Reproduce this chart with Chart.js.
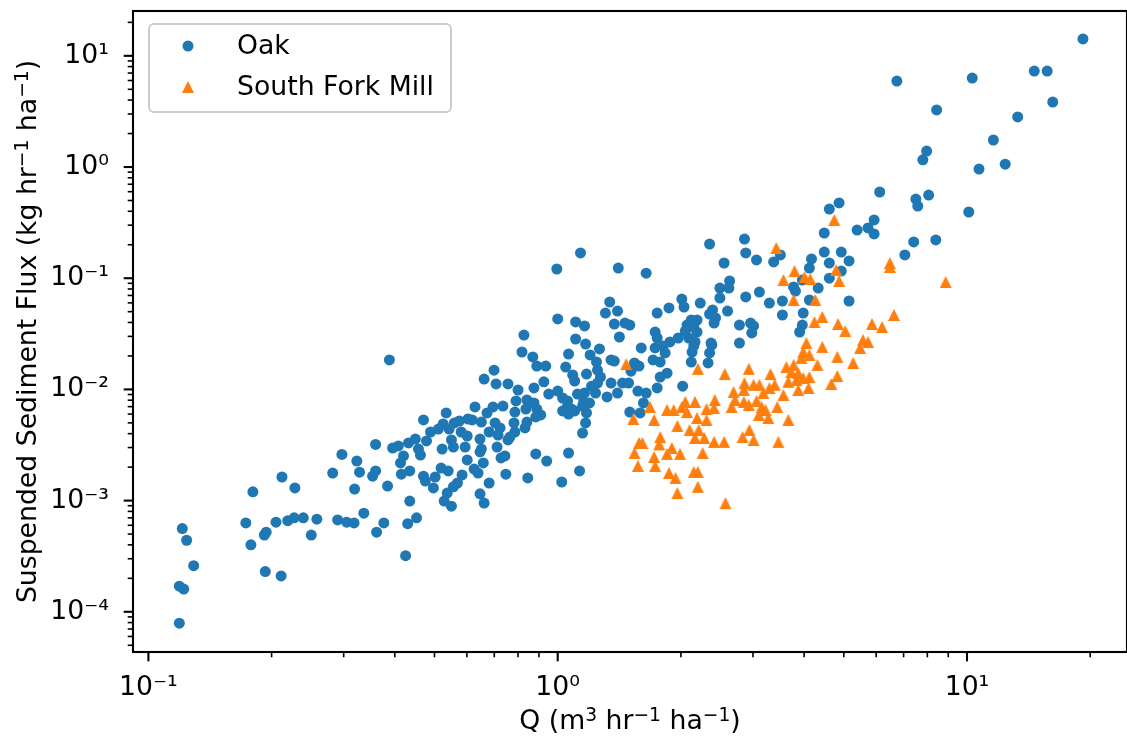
<!DOCTYPE html>
<html>
<head>
<meta charset="utf-8">
<script src="https://cdn.jsdelivr.net/npm/chart.js"></script>
<style>
  html, body { margin: 0; padding: 0; background: #fff; }
  #wrap { width: 1127px; height: 737px; }
</style>
</head>
<body>
<div id="wrap"><canvas id="myChart" width="1127" height="737"></canvas></div>
<script>
// Oak: Q (m3 hr-1 ha-1) and suspended sediment flux (kg hr-1 ha-1)
const oakQ = [
  0.121, 0.124, 0.129, 0.119, 0.122, 0.119, 0.173, 0.178, 0.180, 0.193, 0.192, 0.194, 0.205, 0.211, 0.212, 0.219, 0.227,
  0.228, 0.239, 0.250, 0.258, 0.282, 0.290, 0.297, 0.305, 0.318, 0.323, 0.328, 0.319, 0.336, 0.353, 0.359, 0.359, 0.361,
  0.388, 0.995, 1.137, 1.0, 0.827, 0.818, 0.869, 0.889, 0.935, 0.699, 0.661, 0.707, 0.756, 0.800, 0.875, 0.925, 0.951,
  1.0, 0.791, 0.841, 0.875, 0.628, 0.672, 0.695, 0.735, 0.786, 0.836, 0.889, 0.909, 0.534, 0.470, 0.525, 0.559, 0.575,
  0.604, 0.618, 0.651, 0.703, 0.723, 0.782, 0.841, 0.884, 0.489, 0.511, 0.543, 0.581, 0.601, 0.680, 0.715, 0.786, 0.832,
  0.646, 0.756, 0.449, 0.432, 0.478, 0.550, 0.408, 0.395, 0.457, 0.522, 0.556, 0.594, 0.651, 0.711, 0.462, 0.420, 0.413,
  0.646, 0.601, 0.658, 0.625, 0.639, 0.727, 0.743, 0.747, 0.680, 0.646, 0.661, 0.584, 0.569, 0.556, 0.537, 0.528, 0.550,
  0.540, 0.519, 0.502, 0.497, 0.470, 0.475, 0.435, 0.415, 0.384, 0.435, 0.452, 0.430, 0.376, 0.425, 0.884, 0.940, 1.063,
  1.131, 1.023, 0.845, 0.764, 1.028, 1.057, 1.10, 1.15,
  1.106, 1.163, 1.308, 1.106, 1.17, 1.265, 1.063, 1.20, 1.244, 1.046, 1.088, 1.10, 1.176, 1.251, 1.272, 1.251, 1.21,
  1.237, 1.163, 1.118, 1.196, 1.157, 1.057, 1.028, 1.063, 1.081, 1.176, 1.17, 1.15,
  1.406, 1.645, 2.35, 2.86, 2.88, 3.06, 3.37, 3.50, 2.55, 4.48, 4.93, 4.48, 5.15, 4.61, 4.17, 4.12, 4.93, 4.61, 4.33,
  3.96, 3.77, 3.81, 5.15, 4.12, 3.98, 3.54, 3.54, 3.29, 2.88, 3.11, 3.96, 3.90, 2.63, 2.62, 2.49, 2.49, 2.39, 2.60, 2.35,
  2.43, 2.41, 2.23, 2.01, 2.035, 1.87, 1.75, 2.12, 2.19, 2.15, 2.07, 2.05, 2.19, 2.09, 2.165, 2.15, 2.13, 2.12, 2.38,
  2.35, 2.33, 1.97, 1.88, 1.81, 1.83, 1.73, 1.75, 1.73, 1.71, 1.78, 1.85, 1.78, 1.75, 1.60, 1.415, 1.375, 1.46, 1.50,
  1.34, 1.40, 1.35, 1.375, 1.54, 1.58, 1.51, 1.35, 1.44, 1.49, 1.32, 1.40, 1.57, 1.645, 1.62, 1.59, 1.50, 2.78, 2.96,
  3.01, 2.98, 2.78, 2.02, 2.37, 4.61, 4.87,
  19.2, 6.74, 10.3, 14.6, 15.7, 16.2, 13.3, 8.43, 11.6, 7.97, 7.80, 10.7, 12.4, 6.12, 7.50, 7.58, 8.06, 10.1, 5.93,
  5.73, 5.93, 5.39, 7.41, 8.39, 7.05
];
const oakFlux = [
  5.6e-4, 4.4e-4, 2.6e-4, 1.7e-4, 1.6e-4, 7.9e-5, 6.3e-4, 4.0e-4, 1.2e-3, 2.3e-4, 4.9e-4, 5.2e-4, 6.4e-4, 2.1e-4, 1.63e-3, 6.6e-4, 7.0e-4,
  1.3e-3, 7.0e-4, 4.9e-4, 6.8e-4, 1.77e-3, 6.7e-4, 2.6e-3, 6.4e-4, 6.3e-4, 2.27e-3, 1.8e-3, 1.27e-3, 7.7e-4, 1.66e-3, 1.85e-3, 3.2e-3, 5.2e-4,
  0.0184, 0.121, 0.169, 0.043, 0.0308, 0.0217, 0.0196, 0.0162, 0.0162, 0.0149, 0.0124, 0.0112, 0.0112, 0.00988, 0.0103, 0.0117, 0.00909,
  0.00967, 0.00787, 0.00803, 0.00755, 0.00695, 0.00614, 0.00695, 0.00709, 0.00626, 0.00666, 0.00666, 0.00589, 0.00614, 0.00531, 0.00489, 0.00499, 0.0052,
  0.00542, 0.00531, 0.00509, 0.00499, 0.0045, 0.00499, 0.00509, 0.00565, 0.00414, 0.0044, 0.0044, 0.00414, 0.00381, 0.00414, 0.00389, 0.00414, 0.0045,
  0.00358, 0.00351, 0.00358, 0.0033, 0.00344, 0.00351, 0.0031, 0.00297, 0.00291, 0.00291, 0.00303, 0.00303, 0.00291, 0.00303, 0.00257, 0.00252, 0.00218,
  0.00274, 0.00232, 0.00218, 0.00192, 0.00177, 0.00242, 0.00252, 0.00173, 0.00144, 0.00115, 9.5e-4, 0.0017, 0.00144, 0.00133, 0.00117, 9.9e-4, 8.9e-4,
  0.00185, 0.00196, 0.00163, 0.0013, 0.00166, 0.0015, 0.00185, 0.00173, 0.00135, 9.9e-4, 7.0e-4, 6.2e-4, 6.3e-4, 3.2e-4, 0.00263, 0.00227, 0.00268,
  0.00185, 0.00147, 0.0016, 0.00373, 0.00837, 0.00709, 0.0064, 0.00709,
  0.0404, 0.0372, 0.0486, 0.0284, 0.0256, 0.0231, 0.0208, 0.0204, 0.0176, 0.0159, 0.0135, 0.0119, 0.01375, 0.0149, 0.0129, 0.0114, 0.0107,
  0.00928, 0.00928, 0.00909, 0.00755, 0.00771, 0.00787, 0.0064, 0.00601, 0.00666, 0.00614, 0.00499, 0.00405,
  0.1235, 0.111, 0.203, 0.225, 0.169, 0.146, 0.140, 0.162, 0.137, 0.255, 0.172, 0.172, 0.143, 0.137, 0.149, 0.1235, 0.116, 0.100, 0.0816,
  0.0963, 0.0834, 0.0767, 0.0624, 0.0637, 0.0486, 0.0624, 0.0467, 0.0598, 0.0678, 0.0751, 0.0379, 0.0328, 0.0944, 0.0816, 0.0816, 0.0664, 0.0518, 0.0507, 0.0476,
  0.0439, 0.0395, 0.0598, 0.065, 0.0551, 0.054, 0.0486, 0.0421, 0.0421, 0.0364, 0.0379, 0.0335, 0.0328, 0.029, 0.0267, 0.0246, 0.0217, 0.0176, 0.0251,
  0.0213, 0.0173, 0.029, 0.0267, 0.0246, 0.0213, 0.0328, 0.029, 0.0236, 0.0184, 0.0176, 0.014, 0.0129, 0.0103, 0.0236, 0.0296, 0.0387, 0.0395, 0.0379,
  0.0611, 0.0507, 0.0184, 0.018, 0.0173, 0.0162, 0.0146, 0.0114, 0.0114, 0.0114, 0.00855, 0.00928, 0.00967, 0.00928, 0.00755, 0.00614, 0.00626, 0.0379, 0.0395,
  0.0372, 0.0322, 0.0261, 0.0107, 0.0261, 0.419, 0.475,
  14.2, 5.93, 6.31, 7.3, 7.3, 3.84, 2.82, 3.26, 1.75, 1.39, 1.16, 0.959, 1.06, 0.596, 0.515, 0.446, 0.56, 0.394, 0.334,
  0.283, 0.25, 0.271, 0.212, 0.221, 0.162
];

// South Fork Mill
const sfmQ = [
  1.47, 4.74, 3.42, 3.79, 3.56, 4.01, 4.14, 4.79, 4.87, 3.77, 4.26, 4.43, 4.24, 4.84, 5.04, 5.27, 4.05, 4.43, 3.98, 4.12,
  3.94, 4.31, 4.82, 4.82, 4.66, 3.62, 3.77, 3.72, 3.87, 3.83, 3.98, 3.66, 4.12, 4.10, 3.87, 2.20, 2.56, 2.93, 3.31, 2.86,
  2.85, 2.69, 3.01, 3.11, 3.29, 3.39, 3.18, 3.56, 2.71, 2.85, 2.93, 3.06, 3.15, 3.22, 3.10, 3.27, 3.44, 3.66, 2.42, 2.41,
  2.31, 2.165, 2.05, 2.01, 1.92, 1.85, 1.68, 2.19, 2.31, 1.96, 1.72, 1.53, 2.10, 2.21, 2.165, 2.28, 2.41, 2.55, 2.83, 2.94,
  3.01, 3.46, 1.78, 1.77, 1.58, 1.61, 1.54, 1.72, 1.85, 1.90, 1.99, 1.57, 1.73, 1.87, 1.94, 2.15, 2.20, 1.96, 2.20, 2.57,
  2.26, 2.07, 2.66, 6.48, 6.48, 8.87, 6.63, 5.86, 6.20, 5.57, 5.73, 5.48
];
const sfmFlux = [
  0.0169, 0.334, 0.187, 0.116, 0.0963, 0.1025, 0.0984, 0.1185, 0.0944, 0.0637, 0.0637, 0.0448, 0.0404, 0.0387, 0.0335, 0.0173, 0.0261, 0.0241, 0.0217, 0.0204,
  0.0192, 0.0166, 0.0196, 0.0132, 0.0112, 0.0159, 0.0166, 0.0143, 0.014, 0.01215, 0.01266, 0.0117, 0.0129, 0.0103, 0.00988, 0.0153, 0.01375, 0.0153, 0.01375, 0.0114,
  0.00988, 0.00948, 0.011, 0.011, 0.0103, 0.011, 0.00928, 0.00891, 0.00803, 0.00771, 0.00724, 0.00787, 0.00695, 0.00653, 0.00589, 0.00553, 0.00695, 0.00531, 0.00803, 0.0068,
  0.00666, 0.00771, 0.00771, 0.00695, 0.00653, 0.00653, 0.00695, 0.00553, 0.00531, 0.00469, 0.00531, 0.00542, 0.00431, 0.00431, 0.00366, 0.00366, 0.00337, 0.00337, 0.00373, 0.00431,
  0.00351, 0.00337, 0.00373, 0.0032, 0.0033, 0.0033, 0.00268, 0.00247, 0.00263, 0.00297, 0.00263, 0.00205, 0.00205, 0.00177, 0.0016, 0.00181, 0.00181, 0.00117, 0.00133, 9.5e-4,
  0.00268, 0.00626, 0.00695, 0.137, 0.126, 0.0924, 0.0467, 0.0387, 0.0364, 0.0278, 0.0267, 0.0236
];

const seriesNames = ['Oak', 'South Fork Mill'];
const seriesColors = ['#1f77b4', '#ff7f0e'];

// axis titles, split so the exponents can be raised like matplotlib mathtext
const xTitle = [['Q (m'], ['3', 1], [' hr'], ['\u22121', 1], [' ha'], ['\u22121', 1], [')']];
const yTitle = [['Suspended Sediment Flux (kg hr'], ['\u22121', 1], [' ha'], ['\u22121', 1], [')']];

const FONT = 'DejaVu Sans';
const FS = 26.7;

const toPoints = (xs, ys) => xs.map((q, i) => ({x: q, y: ys[i]}));

// matplotlib '^' marker: as wide as it is tall, centred on its box
function triangleMarker(color, size) {
    const c = document.createElement('canvas');
    c.width = size + 2;
    c.height = size + 2;
    const g = c.getContext('2d');
    g.fillStyle = color;
    g.beginPath();
    g.moveTo(1 + size / 2, 1);
    g.lineTo(1 + size, 1 + size);
    g.lineTo(1, 1 + size);
    g.closePath();
    g.fill();
    return c;
}

const SUP = {'-': '\u207B', '0': '\u2070', '1': '\u00B9', '2': '\u00B2', '3': '\u00B3', '4': '\u2074', '5': '\u2075'};
function decadeLabel(value) {
    const e = Math.log10(value);
    if (Math.abs(e - Math.round(e)) > 1e-6) return null;
    return '10' + String(Math.round(e)).split('').map(c => SUP[c]).join('');
}

// keep the plot box where matplotlib put it
function noEdgePadding(s) {
    s.paddingTop = 0;
    s.paddingBottom = 0;
    s.paddingLeft = 0;
    s.paddingRight = 0;
}

// text with raised, smaller exponents; (cx, baseline) is the centre of the baseline
function drawTitle(ctx, parts, cx, cy, rotated) {
    const big = FS + 'px "' + FONT + '"';
    const small = (FS * 0.7) + 'px "' + FONT + '"';
    let total = 0;
    const widths = parts.map(p => {
        ctx.font = p[1] ? small : big;
        const w = ctx.measureText(p[0]).width;
        total += w;
        return w;
    });
    ctx.save();
    ctx.translate(cx, cy);
    if (rotated) ctx.rotate(-Math.PI / 2);
    ctx.fillStyle = '#000';
    ctx.textAlign = 'left';
    ctx.textBaseline = 'alphabetic';
    let x = -total / 2;
    parts.forEach((p, i) => {
        ctx.font = p[1] ? small : big;
        ctx.fillText(p[0], x, p[1] ? -FS * 0.3 : 0);
        x += widths[i];
    });
    ctx.restore();
}

// spines, log tick marks, axis titles and the legend box
const axesFrame = {
    id: 'axesFrame',
    afterDatasetsDraw(chart) {
        const {ctx, chartArea: a, scales} = chart;
        ctx.save();
        ctx.strokeStyle = '#000';
        const marks = (scale, horizontal) => {
            const lo = Math.floor(Math.log10(scale.min));
            const hi = Math.ceil(Math.log10(scale.max));
            for (let e = lo; e <= hi; e++) {
                for (let m = 1; m < 10; m++) {
                    const v = m * Math.pow(10, e);
                    if (v < scale.min || v > scale.max) continue;
                    const p = scale.getPixelForValue(v);
                    const len = m === 1 ? 9.3 : 5.3;
                    ctx.lineWidth = m === 1 ? 2.1 : 1.6;
                    ctx.beginPath();
                    if (horizontal) {
                        ctx.moveTo(p, a.bottom);
                        ctx.lineTo(p, a.bottom + len);
                    } else {
                        ctx.moveTo(a.left, p);
                        ctx.lineTo(a.left - len, p);
                    }
                    ctx.stroke();
                }
            }
        };
        marks(scales.x, true);
        marks(scales.y, false);
        ctx.lineWidth = 2.1;
        ctx.strokeRect(a.left, a.top, a.right - a.left, a.bottom - a.top);

        drawTitle(ctx, xTitle, (a.left + a.right) / 2, 729, false);
        drawTitle(ctx, yTitle, 36, (a.top + a.bottom) / 2, true);

        // legend
        const bx = 149, by = 24, bw = 302, bh = 88;
        ctx.beginPath();
        ctx.roundRect(bx, by, bw, bh, 5);
        ctx.fillStyle = 'rgba(255,255,255,0.8)';
        ctx.fill();
        ctx.lineWidth = 2;
        ctx.strokeStyle = '#cccccc';
        ctx.stroke();
        const rows = [46, 87];
        chart.data.datasets.forEach((ds, i) => {
            ctx.fillStyle = ds.backgroundColor;
            Chart.helpers.drawPoint(ctx, {pointStyle: ds.pointStyle, radius: ds.pointRadius, borderWidth: 0}, 188, rows[i]);
            ctx.fillStyle = '#000';
            ctx.font = FS + 'px "' + FONT + '"';
            ctx.textBaseline = 'middle';
            ctx.textAlign = 'left';
            ctx.fillText(ds.label, 237, rows[i] + 1);
        });
        ctx.restore();
    }
};

const tickFont = {family: FONT, size: FS};

new Chart(document.getElementById('myChart').getContext('2d'), {
    type: 'scatter',
    data: {
        datasets: [
            {
                label: seriesNames[0],
                data: toPoints(oakQ, oakFlux),
                pointStyle: 'circle',
                pointRadius: 5.5,
                borderWidth: 0,
                backgroundColor: seriesColors[0],
                order: 1
            },
            {
                label: seriesNames[1],
                data: toPoints(sfmQ, sfmFlux),
                pointStyle: triangleMarker(seriesColors[1], 12),
                pointRadius: 7,
                borderWidth: 0,
                backgroundColor: seriesColors[1],
                order: 0
            }
        ]
    },
    options: {
        responsive: false,
        animation: false,
        devicePixelRatio: 1,
        // the saved figure cut the right spine off, so the box runs past the canvas
        layout: {autoPadding: false, padding: {top: 11, right: -5, left: 0, bottom: 0}},
        plugins: {legend: {display: false}, tooltip: {enabled: false}},
        scales: {
            x: {
                type: 'logarithmic',
                position: 'bottom',
                min: 0.0917,
                max: 24.6,
                afterFit: s => { s.height = 85; noEdgePadding(s); },
                grid: {display: false},
                border: {display: false},
                ticks: {autoSkip: false, maxRotation: 0, padding: 12, color: '#000', font: tickFont, callback: decadeLabel}
            },
            y: {
                type: 'logarithmic',
                position: 'left',
                min: 4.35e-5,
                max: 25.3,
                afterFit: s => { s.width = 133; noEdgePadding(s); },
                grid: {display: false},
                border: {display: false},
                ticks: {autoSkip: false, padding: 16, color: '#000', font: tickFont, callback: decadeLabel}
            }
        }
    },
    plugins: [axesFrame]
});
</script>
</body>
</html>
